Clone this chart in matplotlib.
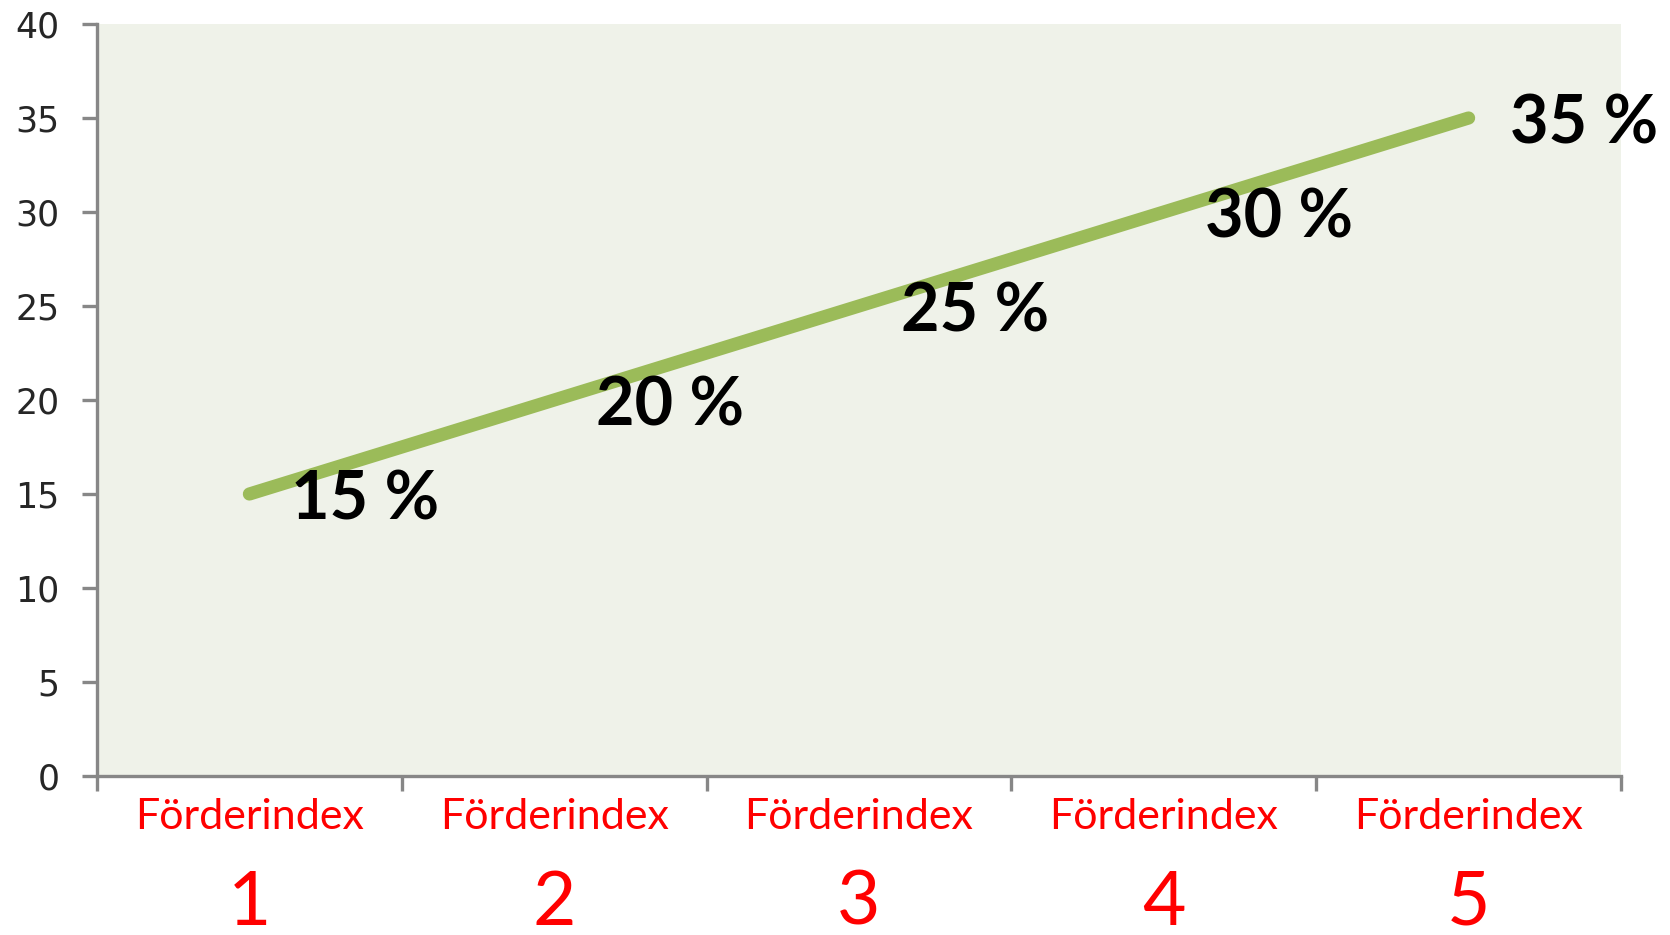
import matplotlib
matplotlib.use("Agg")
import matplotlib.pyplot as plt

categories = ["Förderindex\n1", "Förderindex\n2", "Förderindex\n3", "Förderindex\n4", "Förderindex\n5"]
values = [15, 20, 25, 30, 35]
point_labels = ["15 %", "20 %", "25 %", "30 %", "35 %"]
y_ticks = [0, 5, 10, 15, 20, 25, 30, 35, 40]

W, H, DPI = 1670, 935, 100
fig = plt.figure(figsize=(W / DPI, H / DPI), dpi=DPI)
fig.patch.set_facecolor("white")

left, right, top, bottom = 97, 1621, 24, 776
ax = fig.add_axes([left / W, 1 - bottom / H, (right - left) / W, (bottom - top) / H])
ax.set_facecolor("#EFF2E9")

x = list(range(len(values)))
ax.plot(x, values, color="#9BBB59", linewidth=9.5, solid_capstyle="round", zorder=3)

for xi, v, lab in zip(x, values, point_labels):
    ax.annotate(lab, (xi, v), xytext=(30, -5), textcoords="offset points",
                ha="left", va="center", fontsize=48, fontweight="bold",
                family="Lato", color="black", zorder=4, annotation_clip=False)

ax.set_xlim(-0.5, len(values) - 0.5)
ax.set_ylim(0, 40)
ax.set_yticks(y_ticks)
ax.set_yticklabels([str(t) for t in y_ticks], fontsize=25, family="DejaVu Sans", color="#262626")
ax.set_xticks([i - 0.5 for i in range(len(values) + 1)])
ax.set_xticklabels([])

axis_col = "#878787"
for side in ("top", "right"):
    ax.spines[side].set_visible(False)
for side in ("left", "bottom"):
    ax.spines[side].set_color(axis_col)
    ax.spines[side].set_linewidth(2.4)
ax.tick_params(axis="both", direction="out", length=11, width=2.4, color=axis_col)
ax.tick_params(axis="y", pad=16)

for xi, cat in zip(x, categories):
    word, num = cat.split("\n")
    ax.text(xi, -0.071, word, transform=ax.get_xaxis_transform(), ha="center", va="baseline",
            fontsize=31, family="Lato", color="#FF0000")
    ax.text(xi, -0.198, num, transform=ax.get_xaxis_transform(), ha="center", va="baseline",
            fontsize=54, family="Lato", color="#FF0000")

fig.savefig("out.png", dpi=DPI, facecolor="white")
